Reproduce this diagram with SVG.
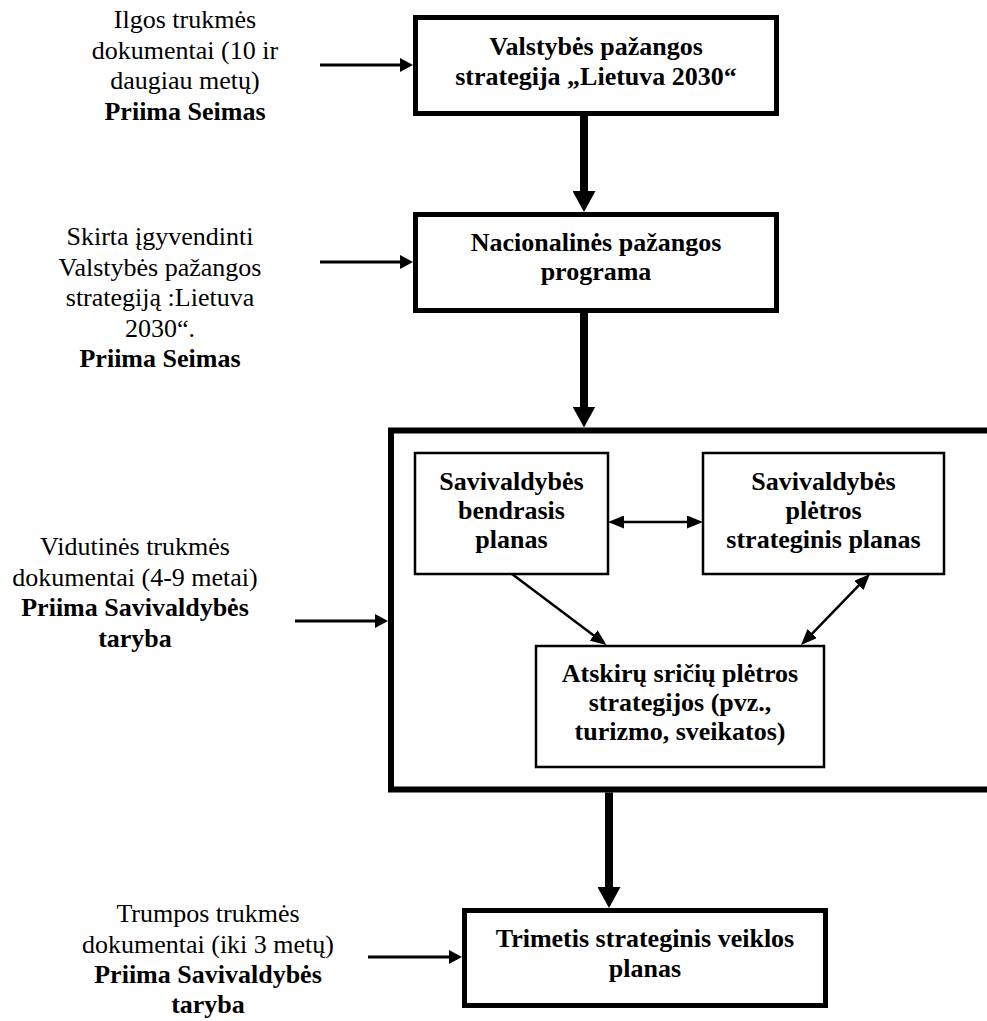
<svg xmlns="http://www.w3.org/2000/svg" width="987" height="1021" viewBox="0 0 987 1021">
<style>
text{font-family:"Liberation Serif","Times New Roman",serif;font-size:26px;fill:#000;text-anchor:middle}
.b{font-weight:bold}
.thick{fill:#fff;stroke:#000;stroke-width:5}
.big{fill:none;stroke:#000;stroke-width:6}
.thin{fill:#fff;stroke:#000;stroke-width:2.5}
.cT{stroke:#000;stroke-width:8;fill:none;marker-end:url(#hT)}
.cL{stroke:#000;stroke-width:3;fill:none;marker-end:url(#hL)}
.cI{stroke:#000;stroke-width:2.5;fill:none;marker-end:url(#hI)}
.dbl{marker-start:url(#hI)}
</style>
<defs>
<marker id="hT" markerUnits="userSpaceOnUse" markerWidth="21" markerHeight="23" refX="11" refY="11.5" orient="auto" viewBox="0 0 21 23"><path d="M0,0 L21,11.5 L0,23 z" fill="#000"/></marker>
<marker id="hL" markerUnits="userSpaceOnUse" markerWidth="13" markerHeight="14" refX="7" refY="7" orient="auto" viewBox="0 0 13 14"><path d="M0,0 L13,7 L0,14 z" fill="#000"/></marker>
<marker id="hI" markerUnits="userSpaceOnUse" markerWidth="16" markerHeight="13" refX="8" refY="6.5" orient="auto-start-reverse" viewBox="0 0 16 13"><path d="M0,0 L16,6.5 L0,13 z" fill="#000"/></marker>
</defs>
<rect width="987" height="1021" fill="#fff"/>

<g id="label-ilgos">
<text x="185" y="28">Ilgos trukmės</text>
<text x="185" y="58.5">dokumentai (10 ir</text>
<text x="185" y="89">daugiau metų)</text>
<text x="185" y="119.5" class="b">Priima Seimas</text>
</g>
<g id="label-skirta">
<text x="160" y="245">Skirta įgyvendinti</text>
<text x="160" y="275.5">Valstybės pažangos</text>
<text x="160" y="306">strategiją :Lietuva</text>
<text x="160" y="336.5">2030“.</text>
<text x="160" y="367" class="b">Priima Seimas</text>
</g>
<g id="label-vidutines">
<text x="135" y="555">Vidutinės trukmės</text>
<text x="135" y="585.5">dokumentai (4-9 metai)</text>
<text x="135" y="616" class="b">Priima Savivaldybės</text>
<text x="135" y="646.5" class="b">taryba</text>
</g>
<g id="label-trumpos">
<text x="208" y="922">Trumpos trukmės</text>
<text x="208" y="952.5">dokumentai (iki 3 metų)</text>
<text x="208" y="983" class="b">Priima Savivaldybės</text>
<text x="208" y="1013" class="b">taryba</text>
</g>

<g id="node-valstybes">
<rect class="thick" x="415.5" y="17.5" width="361" height="96"/>
<text x="596" y="55" class="b">Valstybės pažangos</text>
<text x="596" y="85" class="b">strategija „Lietuva 2030“</text>
</g>
<g id="node-nacionalines">
<rect class="thick" x="415.5" y="214.5" width="361" height="96"/>
<text x="596" y="251" class="b">Nacionalinės pažangos</text>
<text x="596" y="280" class="b">programa</text>
</g>
<g id="node-savivaldybe-group">
<rect class="big" x="391" y="430.5" width="700" height="359"/>
</g>
<g id="node-bendrasis">
<rect class="thin" x="415" y="453" width="193" height="121"/>
<text x="511.5" y="490" class="b">Savivaldybės</text>
<text x="511.5" y="519" class="b">bendrasis</text>
<text x="511.5" y="548" class="b">planas</text>
</g>
<g id="node-pletros">
<rect class="thin" x="703" y="453" width="241" height="121"/>
<text x="823.5" y="490" class="b">Savivaldybės</text>
<text x="823.5" y="519" class="b">plėtros</text>
<text x="823.5" y="548" class="b">strateginis planas</text>
</g>
<g id="node-atskiru">
<rect class="thin" x="536" y="646" width="288" height="121"/>
<text x="680" y="682" class="b">Atskirų sričių plėtros</text>
<text x="680" y="711" class="b">strategijos (pvz.,</text>
<text x="680" y="740" class="b">turizmo, sveikatos)</text>
</g>
<g id="node-trimetis">
<rect class="thick" x="464.5" y="910.5" width="361" height="95"/>
<text x="645" y="947" class="b">Trimetis strateginis veiklos</text>
<text x="645" y="977" class="b">planas</text>
</g>

<g id="connectors">
<line class="cT" x1="584" y1="116" x2="584" y2="202"/>
<line class="cT" x1="584" y1="313" x2="584" y2="417.5"/>
<line class="cT" x1="609" y1="792.5" x2="609" y2="898"/>
<line class="cL" x1="320" y1="65" x2="407" y2="65"/>
<line class="cL" x1="320" y1="262" x2="407" y2="262"/>
<line class="cL" x1="295" y1="621" x2="382" y2="621"/>
<line class="cL" x1="368" y1="957" x2="456" y2="957"/>
<line class="cI dbl" x1="616" y1="522" x2="695" y2="522"/>
<line class="cI" x1="512" y1="574" x2="600.1" y2="640.2"/>
<line class="cI dbl" x1="864.4" y1="579.7" x2="806.6" y2="639.3"/>
</g>
</svg>
